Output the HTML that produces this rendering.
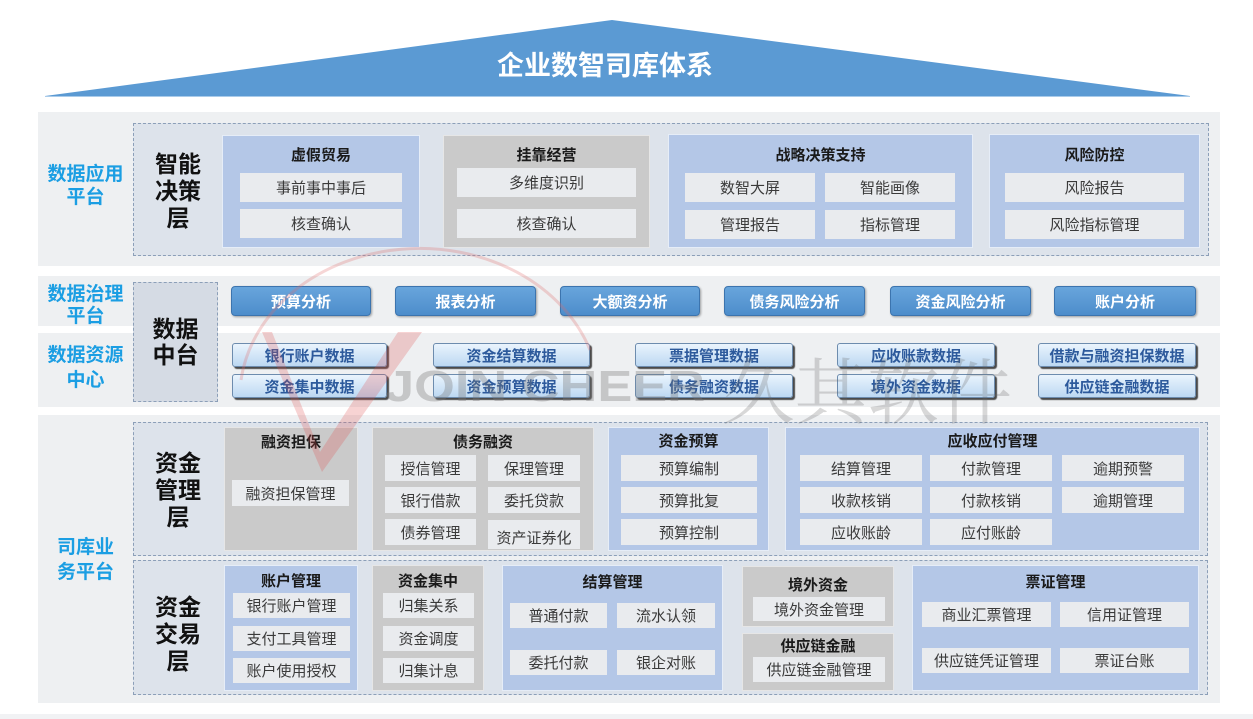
<!DOCTYPE html>
<html><head><meta charset="utf-8">
<style>
*{margin:0;padding:0;box-sizing:border-box}
body{width:1253px;height:719px;background:#fff;position:relative;overflow:hidden;font-family:"Liberation Sans","Noto Sans CJK SC",sans-serif}
div{position:absolute}
.sec{background:#eef0f2}
.dash{border:1px dashed #8c9fb8;background:#dde3eb}
.lab{color:#1b9ee3;font-weight:bold;font-size:19px;text-align:center;left:38px;width:95px}
.lay{color:#111;font-weight:bold;font-size:23px;text-align:center;left:133px;width:90px;line-height:27px}
.bb{background:#b4c7e7;border:1px solid #e6edf7}
.gb{background:#cacaca;border:1px solid #e6e6e6}
.it{background:#e9ebee;display:flex;align-items:center;justify-content:center;font-size:15px;color:#3a3a3a;white-space:nowrap}
.ti{font-weight:bold;font-size:15px;color:#1a1a1a;text-align:center;height:20px;line-height:20px;white-space:nowrap}
.btn{top:286px;height:30px;background:linear-gradient(#68a5dc,#4d8dcb);border:1px solid #3c74ae;border-radius:4px;color:#fff;font-weight:bold;font-size:15px;display:flex;align-items:center;justify-content:center;box-shadow:1px 1px 2px rgba(0,0,0,.35)}
.pl{height:24px;background:linear-gradient(#eaf4fd,#bcd8f2);border:1px solid #6d8cae;border-radius:3px;box-shadow:2px 2px 1px #4a4a4a;color:#2d5a9c;font-weight:bold;font-size:15px;display:flex;align-items:center;justify-content:center;white-space:nowrap}
</style></head><body>

<!-- roof -->
<svg style="position:absolute;left:0;top:0" width="1253" height="110">
<polygon points="45,96 612,20 1190,96" fill="#5b9ad3"/>
<line x1="45" y1="96.5" x2="1190" y2="96.5" stroke="#a9cbea" stroke-width="1"/>
</svg>
<div style="left:405px;top:48px;width:400px;text-align:center;color:#fff;font-weight:bold;font-size:27px;line-height:36px">企业数智司库体系</div>

<!-- Section A -->
<div class="sec" style="left:38px;top:112px;width:1182px;height:154px"></div>
<div class="dash" style="left:133px;top:123px;width:1076px;height:133px"></div>
<div class="lab" style="top:163px;line-height:23px">数据应用<br>平台</div>
<div class="lay" style="top:151px">智能<br>决策<br>层</div>

<div class="bb" style="left:222px;top:135px;width:198px;height:113px"></div>
<div class="ti" style="left:222px;top:146px;width:198px">虚假贸易</div>
<div class="it" style="left:240px;top:173px;width:162px;height:29px">事前事中事后</div>
<div class="it" style="left:240px;top:209px;width:162px;height:29px">核查确认</div>

<div class="gb" style="left:443px;top:135px;width:207px;height:113px"></div>
<div class="ti" style="left:443px;top:146px;width:207px">挂靠经营</div>
<div class="it" style="left:457px;top:168px;width:179px;height:29px">多维度识别</div>
<div class="it" style="left:457px;top:209px;width:179px;height:29px">核查确认</div>

<div class="bb" style="left:668px;top:134px;width:305px;height:114px"></div>
<div class="ti" style="left:668px;top:146px;width:305px">战略决策支持</div>
<div class="it" style="left:685px;top:173px;width:130px;height:29px">数智大屏</div>
<div class="it" style="left:825px;top:173px;width:130px;height:29px">智能画像</div>
<div class="it" style="left:685px;top:210px;width:130px;height:29px">管理报告</div>
<div class="it" style="left:825px;top:210px;width:130px;height:29px">指标管理</div>

<div class="bb" style="left:989px;top:134px;width:211px;height:114px"></div>
<div class="ti" style="left:989px;top:146px;width:211px">风险防控</div>
<div class="it" style="left:1005px;top:173px;width:179px;height:29px">风险报告</div>
<div class="it" style="left:1005px;top:210px;width:179px;height:29px">风险指标管理</div>

<!-- Section B -->
<div class="sec" style="left:38px;top:276px;width:1182px;height:50px"></div>
<div class="sec" style="left:38px;top:333px;width:1182px;height:74px"></div>
<div class="dash" style="left:133px;top:282px;width:85px;height:120px;background:#d5dbe4"></div>
<div class="lab" style="top:284px;line-height:22px">数据治理<br>平台</div>
<div class="lab" style="top:343px;line-height:25px">数据资源<br>中心</div>
<div class="lay" style="left:133px;width:85px;top:316px;line-height:26px">数据<br>中台</div>

<div class="btn" style="left:231px;width:140px">预算分析</div>
<div class="btn" style="left:395px;width:141px">报表分析</div>
<div class="btn" style="left:560px;width:140px">大额资分析</div>
<div class="btn" style="left:724px;width:141px">债务风险分析</div>
<div class="btn" style="left:890px;width:141px">资金风险分析</div>
<div class="btn" style="left:1054px;width:142px">账户分析</div>

<div class="pl" style="left:232px;top:343px;width:155px">银行账户数据</div>
<div class="pl" style="left:232px;top:374px;width:155px">资金集中数据</div>
<div class="pl" style="left:433px;top:343px;width:157px">资金结算数据</div>
<div class="pl" style="left:433px;top:374px;width:157px">资金预算数据</div>
<div class="pl" style="left:635px;top:343px;width:158px">票据管理数据</div>
<div class="pl" style="left:635px;top:374px;width:158px">债务融资数据</div>
<div class="pl" style="left:837px;top:343px;width:158px">应收账款数据</div>
<div class="pl" style="left:837px;top:374px;width:158px">境外资金数据</div>
<div class="pl" style="left:1038px;top:343px;width:158px">借款与融资担保数据</div>
<div class="pl" style="left:1038px;top:374px;width:158px">供应链金融数据</div>

<!-- Section C -->
<div class="sec" style="left:38px;top:415px;width:1182px;height:288px"></div>
<div class="dash" style="left:133px;top:422px;width:1075px;height:134px"></div>
<div class="dash" style="left:133px;top:560px;width:1075px;height:135px"></div>
<div class="lab" style="top:535px;line-height:25px">司库业<br>务平台</div>
<div class="lay" style="top:450px">资金<br>管理<br>层</div>
<div class="lay" style="top:594px">资金<br>交易<br>层</div>

<div class="gb" style="left:224px;top:427px;width:134px;height:124px"></div>
<div class="ti" style="left:224px;top:433px;width:134px">融资担保</div>
<div class="it" style="left:232px;top:480px;width:117px;height:26px">融资担保管理</div>

<div class="gb" style="left:372px;top:427px;width:222px;height:124px"></div>
<div class="ti" style="left:372px;top:433px;width:222px">债务融资</div>
<div class="it" style="left:385px;top:455px;width:91px;height:26px">授信管理</div>
<div class="it" style="left:488px;top:455px;width:92px;height:26px">保理管理</div>
<div class="it" style="left:385px;top:487px;width:91px;height:26px">银行借款</div>
<div class="it" style="left:488px;top:487px;width:92px;height:26px">委托贷款</div>
<div class="it" style="left:385px;top:519px;width:91px;height:26px">债券管理</div>
<div class="it" style="left:488px;top:520px;width:92px;height:29px;padding-top:5px">资产证券化</div>

<div class="bb" style="left:608px;top:427px;width:161px;height:124px"></div>
<div class="ti" style="left:608px;top:432px;width:161px">资金预算</div>
<div class="it" style="left:621px;top:455px;width:136px;height:26px">预算编制</div>
<div class="it" style="left:621px;top:487px;width:136px;height:26px">预算批复</div>
<div class="it" style="left:621px;top:519px;width:136px;height:26px">预算控制</div>

<div class="bb" style="left:785px;top:427px;width:415px;height:124px"></div>
<div class="ti" style="left:785px;top:432px;width:415px">应收应付管理</div>
<div class="it" style="left:800px;top:455px;width:122px;height:26px">结算管理</div>
<div class="it" style="left:930px;top:455px;width:122px;height:26px">付款管理</div>
<div class="it" style="left:1062px;top:455px;width:122px;height:26px">逾期预警</div>
<div class="it" style="left:800px;top:487px;width:122px;height:26px">收款核销</div>
<div class="it" style="left:930px;top:487px;width:122px;height:26px">付款核销</div>
<div class="it" style="left:1062px;top:487px;width:122px;height:26px">逾期管理</div>
<div class="it" style="left:800px;top:519px;width:122px;height:26px">应收账龄</div>
<div class="it" style="left:930px;top:519px;width:122px;height:26px">应付账龄</div>

<div class="bb" style="left:224px;top:565px;width:134px;height:126px"></div>
<div class="ti" style="left:224px;top:572px;width:134px">账户管理</div>
<div class="it" style="left:233px;top:593px;width:117px;height:25px">银行账户管理</div>
<div class="it" style="left:233px;top:626px;width:117px;height:25px">支付工具管理</div>
<div class="it" style="left:233px;top:658px;width:117px;height:25px">账户使用授权</div>

<div class="gb" style="left:372px;top:565px;width:112px;height:126px"></div>
<div class="ti" style="left:372px;top:572px;width:112px">资金集中</div>
<div class="it" style="left:383px;top:593px;width:91px;height:25px">归集关系</div>
<div class="it" style="left:383px;top:626px;width:91px;height:25px">资金调度</div>
<div class="it" style="left:383px;top:658px;width:91px;height:25px">归集计息</div>

<div class="bb" style="left:502px;top:565px;width:221px;height:126px"></div>
<div class="ti" style="left:502px;top:573px;width:221px">结算管理</div>
<div class="it" style="left:510px;top:603px;width:97px;height:25px">普通付款</div>
<div class="it" style="left:617px;top:603px;width:98px;height:25px">流水认领</div>
<div class="it" style="left:510px;top:650px;width:97px;height:25px">委托付款</div>
<div class="it" style="left:617px;top:650px;width:98px;height:25px">银企对账</div>

<div class="gb" style="left:742px;top:566px;width:152px;height:61px"></div>
<div class="ti" style="left:742px;top:576px;width:152px">境外资金</div>
<div class="it" style="left:753px;top:597px;width:132px;height:24px">境外资金管理</div>
<div class="gb" style="left:742px;top:633px;width:152px;height:58px"></div>
<div class="ti" style="left:742px;top:637px;width:152px">供应链金融</div>
<div class="it" style="left:753px;top:657px;width:132px;height:25px">供应链金融管理</div>

<div class="bb" style="left:912px;top:565px;width:287px;height:126px"></div>
<div class="ti" style="left:912px;top:573px;width:287px">票证管理</div>
<div class="it" style="left:922px;top:602px;width:129px;height:25px">商业汇票管理</div>
<div class="it" style="left:1060px;top:602px;width:129px;height:25px">信用证管理</div>
<div class="it" style="left:922px;top:648px;width:129px;height:25px">供应链凭证管理</div>
<div class="it" style="left:1060px;top:648px;width:129px;height:25px">票证台账</div>

<div style="left:0;top:714px;width:1253px;height:5px;background:#f1f2f4"></div>

<!-- watermark -->
<svg style="position:absolute;left:0;top:0" width="1253" height="719">
<path d="M241,380 A180,150 0 0 1 590,350" fill="none" stroke="#e06a6a" stroke-width="3" opacity="0.28"/>
<polygon points="262,332 272,332 320,452 398,332 422,332 322,472" fill="#e05050" opacity="0.25"/>
<text x="385" y="401" textLength="320" lengthAdjust="spacingAndGlyphs" font-family="Liberation Sans" font-weight="bold" font-size="44" fill="#7a7a7a" opacity="0.35">JOIN CHEER</text>
<text x="722" y="418" textLength="290" lengthAdjust="spacingAndGlyphs" font-family="Noto Serif CJK SC,serif" font-size="72" fill="#666" opacity="0.25">久其软件</text>
</svg>
</body></html>
